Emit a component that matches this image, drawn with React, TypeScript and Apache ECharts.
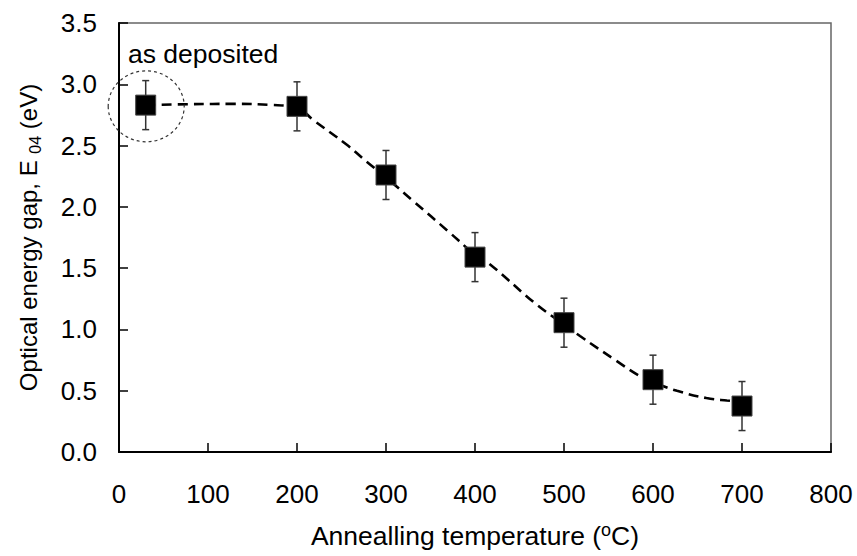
import React, { useEffect, useRef } from "react";
import * as echarts from "echarts";

const temps = [30, 200, 300, 400, 500, 600, 700];
const gaps = [2.83, 2.82, 2.26, 1.59, 1.055, 0.59, 0.375];
const errs = [0.2, 0.2, 0.2, 0.2, 0.2, 0.2, 0.2];

const fitX = [30, 80, 130, 170, 200, 218, 256, 278, 300, 331, 370, 400, 417, 469, 500, 518, 559, 585, 600, 627, 660, 683, 700];
const fitY = [2.83, 2.838, 2.84, 2.832, 2.81, 2.71, 2.506, 2.37, 2.24, 2.045, 1.8, 1.61, 1.53, 1.204, 1.04, 0.946, 0.743, 0.62, 0.57, 0.499, 0.44, 0.42, 0.41];

const xTicks = [0, 100, 200, 300, 400, 500, 600, 700, 800];
const yTicks = [0, 0.5, 1, 1.5, 2, 2.5, 3, 3.5];

const FONT = "'Liberation Sans', Arial, sans-serif";

export default function App() {
  const ref = useRef<HTMLDivElement>(null);
  useEffect(() => {
    if (!ref.current) return;
    const chart = echarts.init(ref.current, undefined, { renderer: "svg" });
    const errData = temps.map((t, i) => [t, gaps[i], gaps[i] - errs[i], gaps[i] + errs[i]]);
    chart.setOption({
      animation: false,
      backgroundColor: "#ffffff",
      textStyle: { fontFamily: FONT },
      grid: {
        left: 119, top: 23, right: 26, bottom: 103,
        show: true, borderColor: "#666", borderWidth: 1.5, backgroundColor: "transparent",
      },
      xAxis: {
        type: "value",
        min: xTicks[0], max: xTicks[xTicks.length - 1], interval: 100,
        name: "Annealling temperature ({sup|o}C)",
        nameLocation: "middle",
        nameGap: 69,
        nameTextStyle: {
          fontSize: 26.5, color: "#000", fontFamily: FONT, lineHeight: 30,
          rich: { sup: { fontSize: 18, verticalAlign: "top", lineHeight: 18, fontFamily: FONT, color: "#000" } },
        },
        axisLine: { show: true, onZero: false, lineStyle: { color: "#000", width: 2 } },
        axisTick: { show: true, inside: true, length: 9, lineStyle: { color: "#000", width: 1.5 } },
        axisLabel: { fontSize: 26, color: "#000", margin: 29, fontFamily: FONT },
        splitLine: { show: false },
      },
      yAxis: {
        type: "value",
        min: yTicks[0], max: yTicks[yTicks.length - 1], interval: 0.5,
        name: "Optical energy gap, E {sub|04} (eV)",
        nameLocation: "middle",
        nameGap: 76,
        nameTextStyle: {
          fontSize: 24, color: "#000", fontFamily: FONT, lineHeight: 30,
          rich: { sub: { fontSize: 16, verticalAlign: "bottom", lineHeight: 16, fontFamily: FONT, color: "#000" } },
        },
        axisLine: { show: true, onZero: false, lineStyle: { color: "#000", width: 2 } },
        axisTick: { show: true, inside: true, length: 9, lineStyle: { color: "#000", width: 1.5 } },
        axisLabel: { fontSize: 26, color: "#000", margin: 22, fontFamily: FONT, formatter: (v: number) => v.toFixed(1) },
        splitLine: { show: false },
      },
      series: [
        {
          type: "line",
          data: fitX.map((x, i) => [x, fitY[i]]),
          smooth: 0.4,
          symbol: "none",
          lineStyle: { color: "#000", width: 2.6, type: [10, 6] },
          z: 2,
          silent: true,
        },
        {
          type: "custom",
          data: errData,
          z: 3,
          renderItem: (params: any, api: any) => {
            const x = api.value(0);
            const lo = api.coord([x, api.value(2)]);
            const hi = api.coord([x, api.value(3)]);
            const cap = 3.5;
            const style = { stroke: "#333", lineWidth: 1.5 };
            return {
              type: "group",
              children: [
                { type: "line", shape: { x1: lo[0], y1: lo[1], x2: hi[0], y2: hi[1] }, style },
                { type: "line", shape: { x1: lo[0] - cap, y1: lo[1], x2: lo[0] + cap, y2: lo[1] }, style },
                { type: "line", shape: { x1: hi[0] - cap, y1: hi[1], x2: hi[0] + cap, y2: hi[1] }, style },
              ],
            };
          },
        },
        {
          type: "scatter",
          data: temps.map((t, i) => [t, gaps[i]]),
          symbol: "rect",
          symbolSize: 20,
          itemStyle: { color: "#000", borderColor: "#444", borderWidth: 1, opacity: 1 },
          z: 4,
        },
        {
          type: "custom",
          data: [[temps[0], gaps[0]]],
          z: 5,
          silent: true,
          renderItem: (params: any, api: any) => {
            const c = api.coord([api.value(0), api.value(1)]);
            const cx = c[0] + 0.5, cy = c[1] + 1.2;
            const rx = 38, ry = 35.5;
            const d = `M ${cx - rx} ${cy} A ${rx} ${ry} 0 1 0 ${cx + rx} ${cy} A ${rx} ${ry} 0 1 0 ${cx - rx} ${cy} Z`;
            return {
              type: "path",
              shape: { pathData: d },
              style: { fill: "none", stroke: "#333", lineWidth: 1.2, lineDash: [3, 3] },
            };
          },
        },
      ],
      graphic: [
        {
          type: "text",
          left: 128,
          top: 40,
          style: { text: "as deposited", font: `26.5px ${FONT}`, fill: "#000" },
        },
      ],
    });
    return () => chart.dispose();
  }, []);
  return <div ref={ref} style={{ position: "fixed", left: 0, top: 0, width: 857, height: 556 }} />;
}
